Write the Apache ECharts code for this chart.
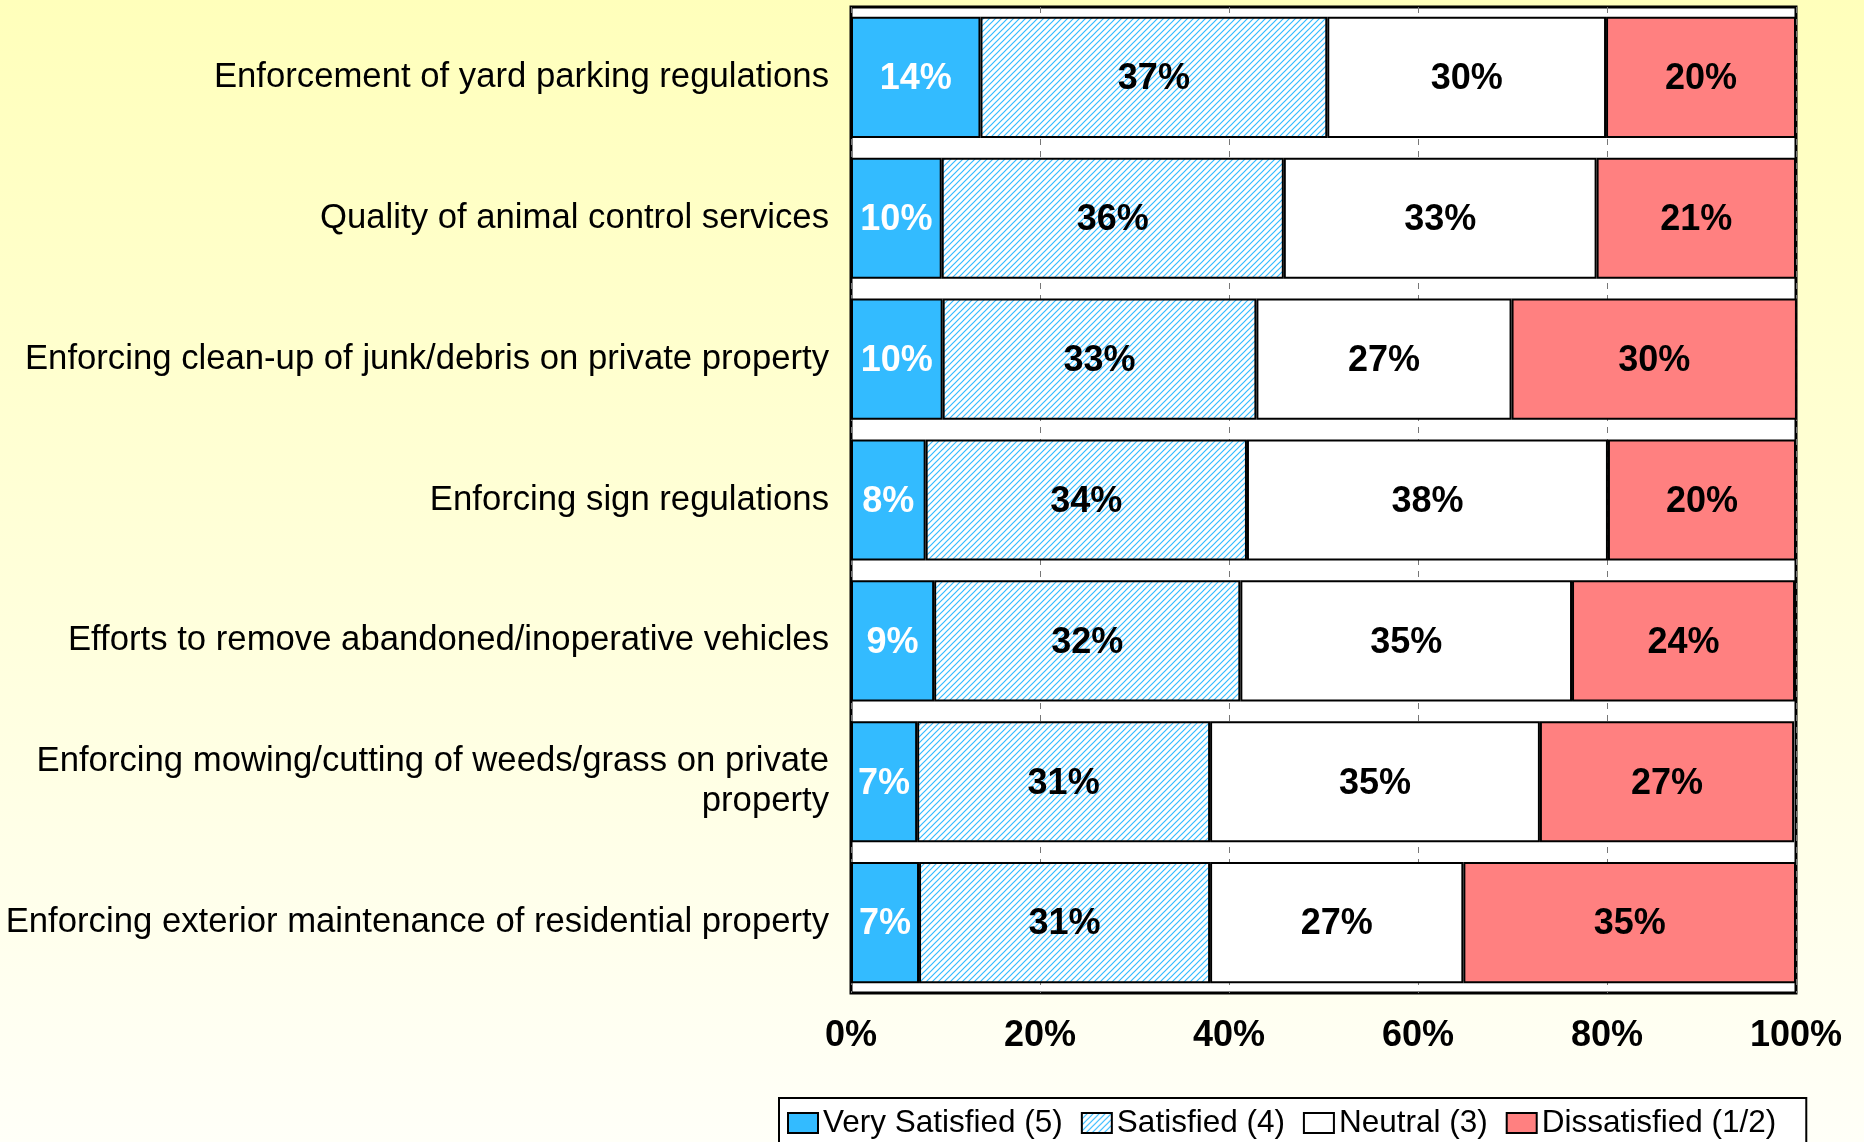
<!DOCTYPE html>
<html>
<head>
<meta charset="utf-8">
<script src="https://cdn.jsdelivr.net/npm/echarts@6/dist/echarts.min.js"></script>
<style>
  html, body { margin: 0; padding: 0; }
  #chart { width: 1864px; height: 1142px; }
</style>
</head>
<body>
<div id="chart"></div>
<script>
// categories, top to bottom
const categories = [
  'Enforcement of yard parking regulations',
  'Quality of animal control services',
  'Enforcing clean-up of junk/debris on private property',
  'Enforcing sign regulations',
  'Efforts to remove abandoned/inoperative vehicles',
  'Enforcing mowing/cutting of weeds/grass on private\nproperty',
  'Enforcing exterior maintenance of residential property'
]

// percent of respondents
const verySatisfied = [13.7, 9.6, 9.7, 7.9, 8.8, 7.0, 7.2]
const satisfied = [36.7, 36.2, 33.2, 34.0, 32.4, 31.0, 30.8]
const neutral = [29.5, 33.1, 27.0, 38.2, 35.1, 34.9, 26.8]
const dissatisfied = [20.1, 21.1, 30.2, 19.9, 23.6, 26.9, 35.2]

const seriesNames = ['Very Satisfied (5)', 'Satisfied (4)', 'Neutral (3)', 'Dissatisfied (1/2)']

// diagonal hatch for the "Satisfied" segment
function makeHatch() {
  const s = 6
  const c = document.createElement('canvas')
  c.width = s
  c.height = s
  const ctx = c.getContext('2d')
  ctx.fillStyle = '#fff'
  ctx.fillRect(0, 0, s, s)
  ctx.strokeStyle = '#33bbff'
  ctx.lineWidth = 1.2
  ctx.beginPath()
  ctx.moveTo(0, s); ctx.lineTo(s, 0)
  ctx.moveTo(-1, 1); ctx.lineTo(1, -1)
  ctx.moveTo(s - 1, s + 1); ctx.lineTo(s + 1, s - 1)
  ctx.stroke()
  return c
}

const hatch = { image: makeHatch(), repeat: 'repeat' }

const chart = echarts.init(document.getElementById('chart'))

function barSeries(name, data, color, labelColor) {
  return {
    name: name,
    type: 'bar',
    stack: 'total',
    barCategoryGap: '14%',
    data: data,
    itemStyle: {
      color: color,
      borderColor: '#000',
      borderWidth: 2
    },
    label: {
      show: true,
      position: 'inside',
      offset: [0, 2],
      color: labelColor,
      fontFamily: 'Liberation Sans, Arial, sans-serif',
      fontWeight: 'bold',
      fontSize: 36,
      formatter: function (p) {
        return Math.round(p.value) + '%'
      }
    }
  }
}

const option = {
  backgroundColor: {
    type: 'linear',
    x: 0, y: 0, x2: 0, y2: 1,
    colorStops: [
      { offset: 0, color: '#ffffbb' },
      { offset: 1, color: '#fffff8' }
    ]
  },
  animation: false,
  textStyle: { fontFamily: 'Liberation Sans, Arial, sans-serif' },
  grid: {
    left: 851,
    right: 68,
    top: 7,
    bottom: 149,
    show: true,
    backgroundColor: '#fff',
    borderColor: '#000',
    borderWidth: 3,
    outerBoundsMode: 'none'
  },
  legend: {
    data: seriesNames,
    left: 779,
    top: 1098,
    orient: 'horizontal',
    icon: 'rect',
    itemWidth: 30,
    itemHeight: 20,
    itemGap: 18,
    padding: [9, 30, 20, 8],
    backgroundColor: '#fff',
    borderColor: '#000',
    borderWidth: 2,
    borderRadius: 0,
    itemStyle: {
      borderColor: '#000',
      borderWidth: 2
    },
    textStyle: {
      color: '#000',
      fontSize: 31.5,
      fontFamily: 'Liberation Sans, Arial, sans-serif'
    }
  },
  xAxis: {
    type: 'value',
    min: 0,
    max: 100,
    interval: 20,
    axisLine: { show: false },
    axisTick: { show: false },
    splitLine: {
      show: true,
      lineStyle: { color: '#777', width: 1, type: [6, 6] }
    },
    axisLabel: {
      formatter: '{value}%',
      color: '#000',
      fontWeight: 'bold',
      fontSize: 36,
      margin: 25
    }
  },
  yAxis: {
    type: 'category',
    inverse: true,
    data: categories,
    axisLine: { show: false },
    axisTick: { show: false },
    axisLabel: {
      color: '#000',
      fontSize: 34.7,
      lineHeight: 40,
      margin: 22,
      padding: [8, 0, 0, 0],
      align: 'right'
    }
  },
  series: [
    barSeries(seriesNames[0], verySatisfied, '#33bbff', '#fff'),
    barSeries(seriesNames[1], satisfied, hatch, '#000'),
    barSeries(seriesNames[2], neutral, '#fff', '#000'),
    barSeries(seriesNames[3], dissatisfied, '#ff8080', '#000')
  ]
}

chart.setOption(option)
</script>
</body>
</html>
